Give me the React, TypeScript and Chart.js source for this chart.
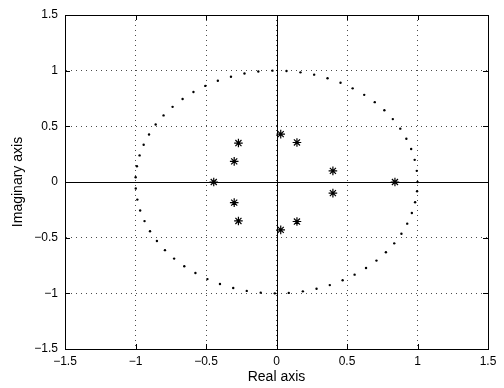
import React, { useEffect, useRef } from 'react';
import { Chart, registerables } from 'chart.js';

Chart.register(...registerables);

// Unit circle samples (dots every ~0.1 rad)
const circleRe = [
  1.0, 0.995, 0.98, 0.955, 0.921, 0.878, 0.825, 0.765, 0.697, 0.622, 0.54,
  0.454, 0.362, 0.267, 0.17, 0.071, -0.029, -0.129, -0.227, -0.323, -0.416,
  -0.505, -0.589, -0.666, -0.737, -0.801, -0.857, -0.904, -0.942, -0.971, -0.99,
  -0.999, -0.998, -0.987, -0.967, -0.936, -0.897, -0.848, -0.791, -0.726, -0.654,
  -0.575, -0.49, -0.401, -0.307, -0.211, -0.112, -0.012, 0.087, 0.187, 0.284,
  0.378, 0.469, 0.554, 0.635, 0.709, 0.776, 0.835, 0.886, 0.927, 0.96,
  0.983, 0.997,
];
const circleIm = [
  0.0, 0.1, 0.199, 0.296, 0.389, 0.479, 0.565, 0.644, 0.717, 0.783, 0.841,
  0.891, 0.932, 0.964, 0.985, 0.997, 1.0, 0.992, 0.974, 0.946, 0.909,
  0.863, 0.808, 0.746, 0.675, 0.598, 0.516, 0.427, 0.335, 0.239, 0.141,
  0.042, -0.058, -0.158, -0.256, -0.351, -0.443, -0.53, -0.612, -0.688, -0.757,
  -0.818, -0.872, -0.916, -0.952, -0.978, -0.994, -1.0, -0.996, -0.982, -0.959,
  -0.926, -0.883, -0.832, -0.773, -0.706, -0.631, -0.551, -0.465, -0.374, -0.279,
  -0.182, -0.083,
];

// Poles (asterisks)
const poleRe = [0.03, 0.03, 0.145, 0.145, -0.27, -0.27, -0.3, -0.3, -0.445, 0.4, 0.4, 0.84];
const poleIm = [0.43, -0.43, 0.355, -0.355, 0.35, -0.35, 0.185, -0.185, 0.0, 0.1, -0.1, 0.0];

const tickValues = [-1.5, -1, -0.5, 0, 0.5, 1, 1.5];
const tickLabels = ['\u22121.5', '\u22121', '\u22120.5', '0', '0.5', '1', '1.5'];

const FONT = "'Liberation Sans', Arial, Helvetica, sans-serif";

const framePlugin = {
  id: 'matlabFrame',
  beforeDatasetsDraw(chart: any) {
    const { ctx, chartArea, scales } = chart;
    const x0 = scales.x.getPixelForValue(0);
    const y0 = scales.y.getPixelForValue(0);
    ctx.save();
    ctx.strokeStyle = '#000';
    ctx.lineWidth = 1;
    ctx.beginPath();
    ctx.moveTo(Math.round(x0) + 0.5, chartArea.top);
    ctx.lineTo(Math.round(x0) + 0.5, chartArea.bottom);
    ctx.moveTo(chartArea.left, Math.round(y0) + 0.5);
    ctx.lineTo(chartArea.right, Math.round(y0) + 0.5);
    ctx.stroke();
    ctx.restore();
  },
  afterDraw(chart: any) {
    const { ctx, chartArea, scales } = chart;
    const { left, right, top, bottom } = chartArea;
    const tl = 5;
    ctx.save();
    ctx.strokeStyle = '#000';
    ctx.lineWidth = 1;
    ctx.strokeRect(Math.round(left) + 0.5, Math.round(top) + 0.5, Math.round(right - left), Math.round(bottom - top));
    ctx.beginPath();
    tickValues.forEach((v) => {
      const px = Math.round(scales.x.getPixelForValue(v)) + 0.5;
      ctx.moveTo(px, bottom);
      ctx.lineTo(px, bottom - tl);
      ctx.moveTo(px, top);
      ctx.lineTo(px, top + tl);
      const py = Math.round(scales.y.getPixelForValue(v)) + 0.5;
      ctx.moveTo(left, py);
      ctx.lineTo(left + tl, py);
      ctx.moveTo(right, py);
      ctx.lineTo(right - tl, py);
    });
    ctx.stroke();
    ctx.restore();
  },
};

function axis(title: string, isX: boolean) {
  return {
    type: 'linear',
    min: -1.5,
    max: 1.5,
    afterBuildTicks: (s: any) => {
      s.ticks = tickValues.map((v) => ({ value: v }));
    },
    afterFit: (s: any) => {
      if (isX) s.height = 39;
      else s.width = 65;
    },
    ticks: {
      color: '#000',
      font: { family: FONT, size: 12 },
      padding: isX ? 5 : 7,
      maxRotation: 0,
      autoSkip: false,
      callback: (_v: any, i: number) => tickLabels[i],
    },
    grid: {
      color: 'rgba(0,0,0,0.7)',
      lineWidth: 1,
      drawTicks: false,
    },
    border: {
      display: true,
      color: '#000',
      width: 1,
      dash: [1, 4],
    },
    title: {
      display: true,
      text: title,
      color: '#000',
      font: { family: FONT, size: 14 },
      padding: isX ? { top: 0, bottom: 2 } : { top: 10, bottom: 0 },
    },
  };
}

export default function App() {
  const ref = useRef<HTMLCanvasElement>(null);
  useEffect(() => {
    document.body.style.margin = '0';
    const canvas = ref.current;
    if (!canvas) return;
    const chart = new Chart(canvas, {
      type: 'scatter',
      data: {
        datasets: [
          {
            label: 'unit circle',
            data: circleRe.map((x, i) => ({ x, y: circleIm[i] })),
            pointStyle: 'circle',
            pointRadius: 1.2,
            pointBackgroundColor: '#000',
            pointBorderWidth: 0,
            showLine: false,
          },
          {
            label: 'poles',
            data: poleRe.map((x, i) => ({ x, y: poleIm[i] })),
            pointStyle: 'star',
            pointRadius: 4.3,
            pointBorderColor: '#000',
            pointBackgroundColor: '#000',
            pointBorderWidth: 1.2,
            showLine: false,
          },
        ],
      },
      options: {
        animation: false,
        responsive: false,
        maintainAspectRatio: false,
        devicePixelRatio: 1,
        layout: { padding: { left: 0, right: 16, top: 15, bottom: 0 } },
        plugins: { legend: { display: false }, tooltip: { enabled: false } },
        scales: {
          x: axis('Real axis', true),
          y: axis('Imaginary axis', false),
        } as any,
      },
      plugins: [framePlugin],
    } as any);
    return () => chart.destroy();
  }, []);
  return (
    <div style={{ position: 'fixed', left: 0, top: 0, width: 504, height: 388, background: '#fff' }}>
      <canvas ref={ref} width={504} height={388} style={{ display: 'block' }} />
    </div>
  );
}
